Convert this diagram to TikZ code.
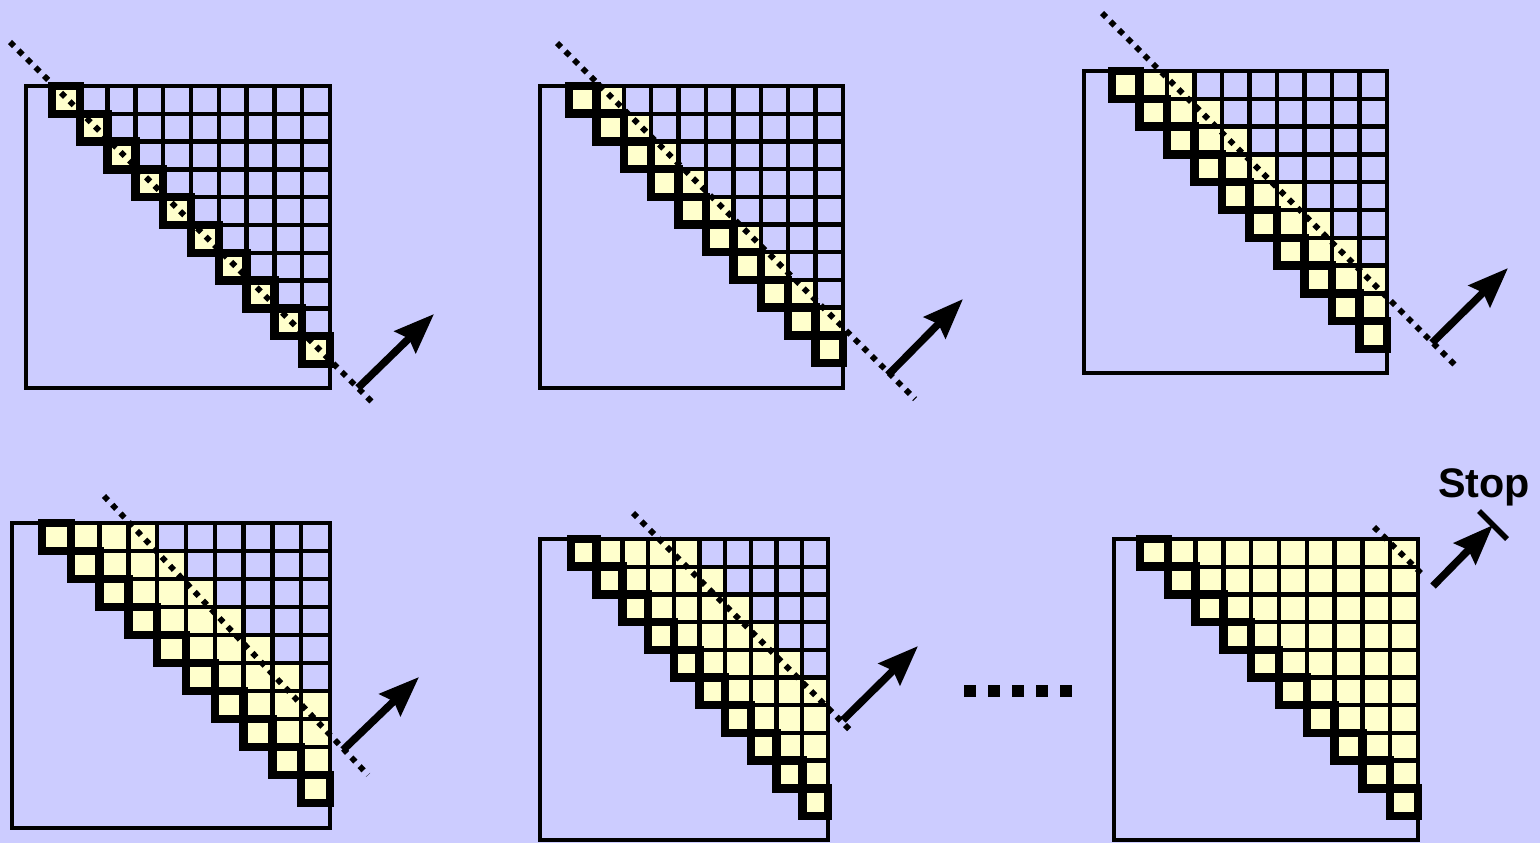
\documentclass[tikz,border=0pt]{standalone}
\usepackage{fontspec}
\setsansfont{Liberation Sans}
\usepackage{tikz}
\usetikzlibrary{arrows.meta}
\definecolor{bgblue}{RGB}{204,204,255}
\definecolor{cellyellow}{RGB}{255,255,204}

% Upper triangle of a 10x10 matrix: corner x, corner y, cell w, cell h, last filled diagonal.
\newcommand{\matgrid}[5]{%
  \foreach \r in {0,...,9}{
    \foreach \c in {\r,...,9}{
      \pgfmathtruncatemacro{\dg}{\c-\r}
      \ifnum\dg>#5 \def\cellfill{none}\else \def\cellfill{cellyellow}\fi
      \draw[gridline,fill=\cellfill] ({#1+\c*#3},{#2+\r*#4}) rectangle ++(#3,#4);
    }
  }
  \foreach \r in {0,...,9}
    \draw[diagbox] ({#1+\r*#3},{#2+\r*#4}) rectangle ++(#3,#4);
}

\begin{document}
\begin{tikzpicture}[
  x=0.02cm, y=-0.02cm,
  gridline/.style={draw=black,line width=0.085cm},
  diagbox/.style={draw=black,line width=0.17cm},
  outerbox/.style={draw=black,line width=0.065cm},
  sweep/.style={line width=0.115cm,dash pattern=on 0.115cm off 0.125cm},
  arr/.style={line width=0.15cm,-{Stealth[length=0.8cm,width=0.6cm,inset=0.1cm]}},
  stopbar/.style={line width=0.11cm}
]
\fill[bgblue] (0,0) rectangle (1540,843);

% Step 1: main diagonal.
\draw[outerbox] (26,86) rectangle (330,388);
\matgrid{52}{86}{27.8}{27.8}{0}
\draw[sweep] (10,42) -- (372,402);
\coordinate (s1) at (358,388);
\coordinate (e1) at (434,314);
\draw[arr] (s1) -- (e1);

% Step 2.
\draw[outerbox] (540,86) rectangle (843,388);
\matgrid{569}{86}{27.4}{27.7}{1}
\draw[sweep] (557,43) -- (915,399);
\coordinate (s2) at (888,375);
\coordinate (e2) at (963,299);
\draw[arr] (s2) -- (e2);

% Step 3.
\draw[outerbox] (1084,71) rectangle (1387,373);
\matgrid{1112}{71}{27.5}{27.8}{2}
\draw[sweep] (1102,13) -- (1458,368);
\coordinate (s3) at (1432,343);
\coordinate (e3) at (1508,268);
\draw[arr] (s3) -- (e3);

% Step 4.
\draw[outerbox] (12,523) rectangle (330,828);
\matgrid{42}{523}{28.8}{28}{3}
\draw[sweep] (104,496) -- (368,775);
\coordinate (s4) at (343,750);
\coordinate (e4) at (419,677);
\draw[arr] (s4) -- (e4);

% Step 5.
\draw[outerbox] (540,539) rectangle (828,840);
\matgrid{571}{539}{25.7}{27.7}{4}
\draw[sweep] (633,513) -- (853,733);
\coordinate (s5) at (843,720);
\coordinate (e5) at (918,646);
\draw[arr] (s5) -- (e5);

% Gap between steps.
\draw[line width=0.24cm,dash pattern=on 0.24cm off 0.24cm] (964,691) -- (1072,691);

% Last step: all diagonals done.
\draw[outerbox] (1114,539) rectangle (1418,840);
\matgrid{1140}{539}{27.8}{27.7}{9}
\draw[sweep] (1374,527) -- (1425,577);
\coordinate (s6) at (1433,586);
\coordinate (e6) at (1493,525);
\draw[arr] (s6) -- (e6);
\draw[stopbar] (1479,511) -- (1507,539);
\node[font=\sffamily\bfseries\fontsize{23.5}{28}\selectfont] (stop) at (1484,487) {Stop};
\end{tikzpicture}
\end{document}
